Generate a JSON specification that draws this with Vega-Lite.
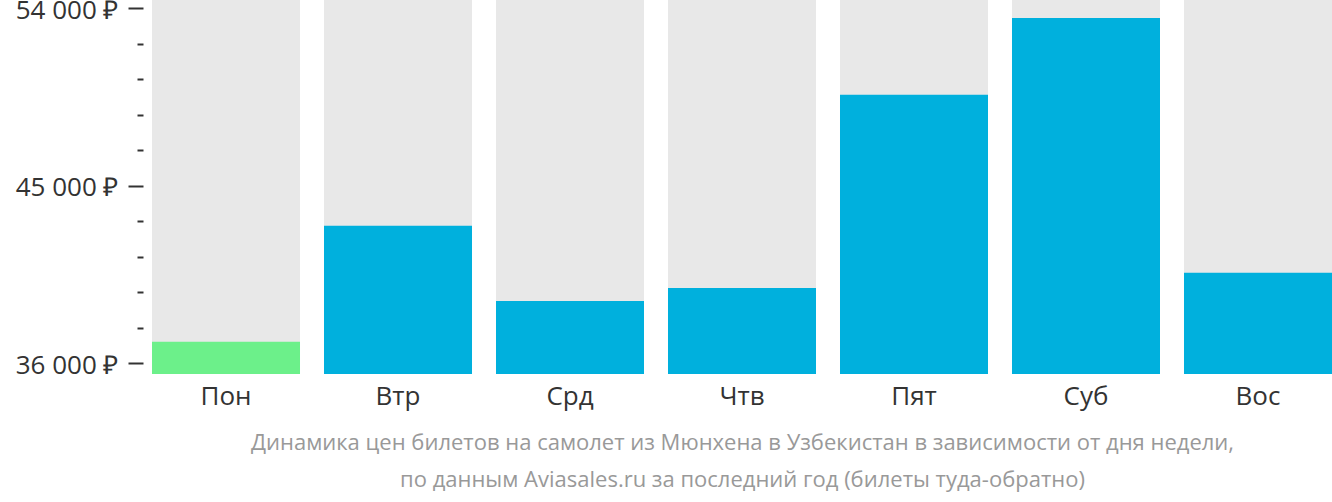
{
  "$schema": "https://vega.github.io/schema/vega-lite/v6.json",
  "width": 1180,
  "height": 374,
  "autosize": "none",
  "padding": {"left": 152, "top": 0, "right": 0, "bottom": 128},
  "background": "white",
  "config": {"view": {"stroke": null}, "font": "Open Sans"},
  "data": {
    "values": [
      {"day": "Пон", "price": 37093, "cheapest": "yes"},
      {"day": "Втр", "price": 42976, "cheapest": "no"},
      {"day": "Срд", "price": 39157, "cheapest": "no"},
      {"day": "Чтв", "price": 39816, "cheapest": "no"},
      {"day": "Пят", "price": 49619, "cheapest": "no"},
      {"day": "Суб", "price": 53508, "cheapest": "no"},
      {"day": "Вос", "price": 40592, "cheapest": "no"}
    ]
  },
  "encoding": {
    "x": {
      "field": "day",
      "type": "nominal",
      "sort": null,
      "scale": {"paddingInner": 0.1395, "paddingOuter": 0},
      "axis": {
        "labelAngle": 0,
        "labelFontSize": 26,
        "labelColor": "#333333",
        "labelPadding": 9,
        "ticks": false,
        "domain": false,
        "title": ["Динамика цен билетов на самолет из Мюнхена в Узбекистан в зависимости от дня недели,", "по данным Aviasales.ru за последний год (билеты туда-обратно)"],
        "titleFontSize": 22,
        "titleFontWeight": "normal",
        "titleColor": "#999999",
        "titleLineHeight": 37,
        "titlePadding": 23
      }
    },
    "y": {
      "field": "price",
      "type": "quantitative",
      "scale": {"domain": [35457, 54421], "zero": false, "nice": false},
      "axis": {
        "title": null,
        "values": [36000, 37800, 39600, 41400, 43200, 45000, 46800, 48600, 50400, 52200, 54000],
        "labelExpr": "datum.value % 9000 === 0 ? replace(format(datum.value, ',d'), ',', ' ') + ' ₽' : ''",
        "labelOverlap": false,
        "tickSize": {"condition": {"test": "datum.value % 9000 === 0", "value": 15}, "value": 6},
        "tickWidth": 2,
        "tickColor": "#333333",
        "domain": false,
        "grid": false,
        "offset": 9,
        "labelFontSize": 26,
        "labelOffset": 2,
        "labelColor": "#333333",
        "labelPadding": 10
      }
    }
  },
  "layer": [
    {
      "mark": {"type": "bar", "color": "#e8e8e8"},
      "encoding": {
        "y": {"datum": 54421, "type": "quantitative"},
        "y2": {"datum": 35457}
      }
    },
    {
      "mark": {"type": "bar"},
      "encoding": {
        "y2": {"datum": 35457},
        "color": {
          "field": "cheapest",
          "type": "nominal",
          "scale": {"domain": ["yes", "no"], "range": ["#6cf08a", "#00b0dd"]},
          "legend": null
        }
      }
    }
  ]
}
